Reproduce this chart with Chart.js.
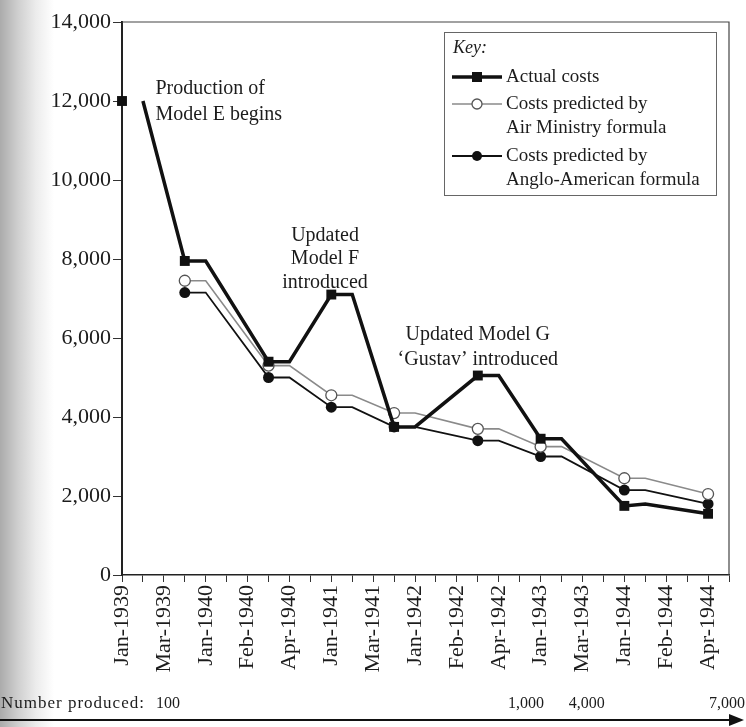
<!DOCTYPE html>
<html>
<head>
<meta charset="utf-8">
<title>Actual and predicted costs</title>
<script src="https://cdn.jsdelivr.net/npm/chart.js@4/dist/chart.umd.min.js"></script>
<style>
  html, body { margin: 0; padding: 0; }
  body {
    width: 746px; height: 727px; overflow: hidden;
    background: linear-gradient(to right, #ababab 0px, #cfcfcf 18px, #ececec 36px, #fff 54px);
  }
  #wrap { position: relative; width: 746px; height: 727px; }
</style>
</head>
<body>
<div id="wrap"><canvas id="costChart"></canvas></div>
<script>
'use strict';

/**
 * data
 */

const tickLabels = ["Jan-1939", "Mar-1939", "Jan-1940", "Feb-1940", "Apr-1940", "Jan-1941", "Mar-1941",
  "Jan-1942", "Feb-1942", "Apr-1942", "Jan-1943", "Mar-1943", "Jan-1944", "Feb-1944", "Apr-1944"];

// one slot per minor tick, a label on every second one
const categories = [];
tickLabels.forEach(function (lbl) { categories.push(lbl, ""); });

const actualCosts = [12000, 12000, null, 7950, 7950, null, null, 5400, 5400, null, 7100, 7100, null, 3750, 3750,
  null, null, 5050, 5050, null, 3450, 3450, null, null, 1750, 1800, null, null, 1550, null];
const airMinistry = [null, null, null, 7450, 7450, null, null, 5300, 5300, null, 4550, 4550, null, 4100, 4100,
  null, null, 3700, 3700, null, 3250, 3250, null, null, 2450, 2450, null, null, 2050, null];
const angloAmerican = [null, null, null, 7150, 7150, null, null, 5000, 5000, null, 4250, 4250, null, 3750, 3750,
  null, null, 3400, 3400, null, 3000, 3000, null, null, 2150, 2150, null, null, 1800, null];

// markers sit on the first point of each pair
const markerIdx = [0, 3, 7, 10, 13, 17, 20, 24, 28];

const producedCounts = [100, 1000, 4000, 7000];
const producedAt = [2.2, 19.3, 22.2, 29];

const yTicks = [0, 2000, 4000, 6000, 8000, 10000, 12000, 14000];

const SERIF = "'Liberation Serif', 'DejaVu Serif', serif";
const INK = "#1c1c1c";

const radiusFor = function (r) {
  return function (ctx) { return markerIdx.includes(ctx.dataIndex) ? r : 0; };
};


/**
 * extras drawn on the canvas: frame, notes, key, production row
 */

const extrasPlugin = {
  id: "extras",
  afterDraw: function (chart) {
    const c = chart.ctx;
    const a = chart.chartArea;
    const xs = chart.scales.x;
    const ys = chart.scales.y;

    c.save();

    // top and right frame
    c.strokeStyle = "#444";
    c.lineWidth = 1.2;
    c.beginPath();
    c.moveTo(a.left, a.top);
    c.lineTo(a.right, a.top);
    c.lineTo(a.right, a.bottom);
    c.stroke();

    // notes
    c.fillStyle = INK;
    c.font = "20px " + SERIF;
    c.textBaseline = "middle";
    c.textAlign = "left";
    const px = xs.getPixelForValue(1.6);
    c.fillText("Production of", px, ys.getPixelForValue(12300));
    c.fillText("Model E begins", px, ys.getPixelForValue(11650));

    c.textAlign = "center";
    const fx = xs.getPixelForValue(9.7);
    c.fillText("Updated", fx, ys.getPixelForValue(8600));
    c.fillText("Model F", fx, ys.getPixelForValue(8000));
    c.fillText("introduced", fx, ys.getPixelForValue(7400));

    const gx = xs.getPixelForValue(17.0);
    c.fillText("Updated Model G", gx, ys.getPixelForValue(6080));
    c.fillText("\u2018Gustav\u2019 introduced", gx, ys.getPixelForValue(5460));

    // key box
    c.strokeStyle = "#666";
    c.lineWidth = 1;
    c.strokeRect(444.5, 32.5, 272, 163);
    c.textAlign = "left";
    c.font = "italic 18px " + SERIF;
    c.fillText("Key:", 453, 48);

    const sample = function (y, lineColor, lineW, drawMark) {
      c.strokeStyle = lineColor;
      c.lineWidth = lineW;
      c.beginPath();
      c.moveTo(452, y);
      c.lineTo(502, y);
      c.stroke();
      drawMark(477, y);
    };
    sample(77, "#111", 3.5, function (x, y) {
      c.fillStyle = "#111";
      c.fillRect(x - 5, y - 5, 10, 10);
    });
    sample(104, "#8a8a8a", 1.5, function (x, y) {
      c.beginPath();
      c.arc(x, y, 5, 0, Math.PI * 2);
      c.fillStyle = "#fff";
      c.fill();
      c.strokeStyle = "#555";
      c.lineWidth = 1.3;
      c.stroke();
    });
    sample(156, "#111", 1.8, function (x, y) {
      c.beginPath();
      c.arc(x, y, 5, 0, Math.PI * 2);
      c.fillStyle = "#111";
      c.fill();
    });

    c.fillStyle = INK;
    c.font = "19px " + SERIF;
    c.fillText("Actual costs", 506, 77);
    c.fillText("Costs predicted by", 506, 104);
    c.fillText("Air Ministry formula", 506, 128);
    c.fillText("Costs predicted by", 506, 156);
    c.fillText("Anglo-American formula", 506, 180);

    // number produced row
    const rowY = 704;
    c.font = "17px " + SERIF;
    c.letterSpacing = "1px";
    c.fillText("Number produced:", 1, rowY);
    c.letterSpacing = "0px";
    c.font = "16px " + SERIF;
    c.textAlign = "center";
    producedCounts.forEach(function (n, i) {
      let x = xs.getPixelForValue(producedAt[i]);
      const txt = n.toLocaleString("en-US");
      if (x + c.measureText(txt).width / 2 > 745) x = 745 - c.measureText(txt).width / 2;
      c.fillText(txt, x, rowY);
    });

    // arrow
    c.strokeStyle = "#111";
    c.lineWidth = 2;
    c.beginPath();
    c.moveTo(0, 720);
    c.lineTo(732, 720);
    c.stroke();
    c.fillStyle = "#111";
    c.beginPath();
    c.moveTo(744, 720);
    c.lineTo(729, 714);
    c.lineTo(729, 726);
    c.closePath();
    c.fill();

    c.restore();
  }
};


/**
 * chart
 */

const ctx = document.getElementById("costChart").getContext("2d");

new Chart(ctx, {
  type: "line",
  data: {
    labels: categories,
    datasets: [
      {
        label: "Actual costs",
        data: actualCosts,
        borderColor: "#111",
        backgroundColor: "#111",
        borderWidth: 3.5,
        pointStyle: "rect",
        pointRadius: radiusFor(7),
        pointBorderWidth: 0,
        spanGaps: true,
        segment: {
          borderColor: function (s) { return s.p0DataIndex === 0 ? "rgba(0,0,0,0)" : undefined; }
        }
      },
      {
        label: "Costs predicted by Air Ministry formula",
        data: airMinistry,
        borderColor: "#8a8a8a",
        backgroundColor: "#fff",
        borderWidth: 1.6,
        pointRadius: radiusFor(5.5),
        pointBorderColor: "#555",
        pointBorderWidth: 1.3,
        spanGaps: true
      },
      {
        label: "Costs predicted by Anglo-American formula",
        data: angloAmerican,
        borderColor: "#111",
        backgroundColor: "#111",
        borderWidth: 1.8,
        pointRadius: radiusFor(5.5),
        pointBorderWidth: 0,
        spanGaps: true
      }
    ]
  },
  options: {
    responsive: true,
    maintainAspectRatio: false,
    animation: false,
    layout: { padding: { top: 22, right: 17, left: 0, bottom: 0 } },
    plugins: {
      legend: { display: false },
      tooltip: { enabled: false }
    },
    elements: { line: { tension: 0 } },
    scales: {
      x: {
        type: "category",
        offset: false,
        afterFit: function (scale) {
          scale.height = 152;
          scale.paddingLeft = 0;
          scale.paddingRight = 0;
        },
        border: { color: "#222", width: 1.5 },
        grid: { drawOnChartArea: false, drawTicks: true, tickLength: 7, color: "#333", lineWidth: 1 },
        ticks: {
          autoSkip: false,
          maxRotation: 90,
          minRotation: 90,
          padding: 3,
          color: INK,
          font: { family: SERIF, size: 22 }
        }
      },
      y: {
        min: 0,
        max: 14000,
        afterFit: function (scale) { scale.width = 122; },
        afterBuildTicks: function (scale) { scale.ticks = yTicks.map(function (v) { return { value: v }; }); },
        border: { color: "#222", width: 2 },
        grid: { drawOnChartArea: false, drawTicks: true, tickLength: 9, color: "#333" },
        ticks: {
          padding: 2,
          color: INK,
          font: { family: SERIF, size: 22 },
          callback: function (v) { return Number(v).toLocaleString("en-US"); }
        }
      }
    }
  },
  plugins: [extrasPlugin]
});
</script>
</body>
</html>
